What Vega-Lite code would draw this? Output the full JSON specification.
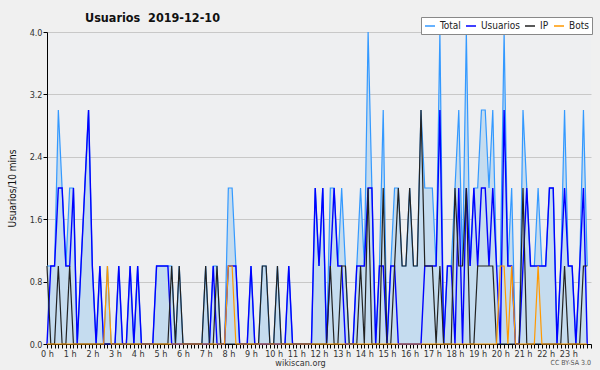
{
  "$schema": "https://vega.github.io/schema/vega-lite/v6.json",
  "width": 544,
  "height": 312,
  "autosize": {"type": "none"},
  "padding": {"left": 47, "top": 32, "right": 9, "bottom": 26},
  "background": "#F0F0F0",
  "title": {"text": "Usuarios\u00a0\u00a02019-12-10", "anchor": "start", "frame": "group", "dx": 38, "dy": 18, "offset": 10, "font": "DejaVu Sans Condensed", "fontSize": 12.5, "fontWeight": "bold", "color": "#111111"},
  "config": {"view": {"stroke": null, "fill": "#EEEFF1"}, "font": "DejaVu Sans Condensed"},
  "data": {"values": [
    {"m":0,"Usuarios":0,"IP":1,"Bots":0,"Total":1},{"m":10,"Usuarios":1,"IP":0,"Bots":0,"Total":1},{"m":20,"Usuarios":1,"IP":0,"Bots":0,"Total":1},{"m":30,"Usuarios":2,"IP":1,"Bots":0,"Total":3},{"m":40,"Usuarios":2,"IP":0,"Bots":0,"Total":2},{"m":50,"Usuarios":1,"IP":0,"Bots":0,"Total":1},
    {"m":60,"Usuarios":1,"IP":1,"Bots":0,"Total":2},{"m":70,"Usuarios":2,"IP":0,"Bots":0,"Total":2},{"m":80,"Usuarios":0,"IP":0,"Bots":0,"Total":0},{"m":90,"Usuarios":1,"IP":0,"Bots":0,"Total":1},{"m":100,"Usuarios":2,"IP":0,"Bots":0,"Total":2},{"m":110,"Usuarios":3,"IP":0,"Bots":0,"Total":3},
    {"m":120,"Usuarios":1,"IP":0,"Bots":0,"Total":1},{"m":130,"Usuarios":0,"IP":0,"Bots":0,"Total":0},{"m":140,"Usuarios":1,"IP":0,"Bots":0,"Total":1},{"m":150,"Usuarios":0,"IP":0,"Bots":0,"Total":0},{"m":160,"Usuarios":0,"IP":0,"Bots":1,"Total":1},{"m":170,"Usuarios":0,"IP":0,"Bots":0,"Total":0},
    {"m":180,"Usuarios":0,"IP":0,"Bots":0,"Total":0},{"m":190,"Usuarios":1,"IP":0,"Bots":0,"Total":1},{"m":200,"Usuarios":0,"IP":0,"Bots":0,"Total":0},{"m":210,"Usuarios":0,"IP":0,"Bots":0,"Total":0},{"m":220,"Usuarios":1,"IP":0,"Bots":0,"Total":1},{"m":230,"Usuarios":0,"IP":0,"Bots":0,"Total":0},
    {"m":240,"Usuarios":1,"IP":0,"Bots":0,"Total":1},{"m":250,"Usuarios":0,"IP":0,"Bots":0,"Total":0},{"m":260,"Usuarios":0,"IP":0,"Bots":0,"Total":0},{"m":270,"Usuarios":0,"IP":0,"Bots":0,"Total":0},{"m":280,"Usuarios":0,"IP":0,"Bots":0,"Total":0},{"m":290,"Usuarios":1,"IP":0,"Bots":0,"Total":1},
    {"m":300,"Usuarios":1,"IP":0,"Bots":0,"Total":1},{"m":310,"Usuarios":1,"IP":0,"Bots":0,"Total":1},{"m":320,"Usuarios":1,"IP":0,"Bots":0,"Total":1},{"m":330,"Usuarios":0,"IP":1,"Bots":0,"Total":1},{"m":340,"Usuarios":0,"IP":0,"Bots":0,"Total":0},{"m":350,"Usuarios":0,"IP":1,"Bots":0,"Total":1},
    {"m":360,"Usuarios":0,"IP":0,"Bots":0,"Total":0},{"m":370,"Usuarios":0,"IP":0,"Bots":0,"Total":0},{"m":380,"Usuarios":0,"IP":0,"Bots":0,"Total":0},{"m":390,"Usuarios":0,"IP":0,"Bots":0,"Total":0},{"m":400,"Usuarios":0,"IP":0,"Bots":0,"Total":0},{"m":410,"Usuarios":0,"IP":0,"Bots":0,"Total":0},
    {"m":420,"Usuarios":0,"IP":1,"Bots":0,"Total":1},{"m":430,"Usuarios":0,"IP":0,"Bots":0,"Total":0},{"m":440,"Usuarios":1,"IP":0,"Bots":0,"Total":1},{"m":450,"Usuarios":0,"IP":1,"Bots":0,"Total":1},{"m":460,"Usuarios":0,"IP":0,"Bots":0,"Total":0},{"m":470,"Usuarios":0,"IP":0,"Bots":0,"Total":0},
    {"m":480,"Usuarios":1,"IP":0,"Bots":1,"Total":2},{"m":490,"Usuarios":1,"IP":0,"Bots":1,"Total":2},{"m":500,"Usuarios":1,"IP":0,"Bots":0,"Total":1},{"m":510,"Usuarios":0,"IP":0,"Bots":0,"Total":0},{"m":520,"Usuarios":0,"IP":0,"Bots":0,"Total":0},{"m":530,"Usuarios":0,"IP":0,"Bots":0,"Total":0},
    {"m":540,"Usuarios":1,"IP":0,"Bots":0,"Total":1},{"m":550,"Usuarios":0,"IP":0,"Bots":0,"Total":0},{"m":560,"Usuarios":0,"IP":0,"Bots":0,"Total":0},{"m":570,"Usuarios":0,"IP":1,"Bots":0,"Total":1},{"m":580,"Usuarios":0,"IP":1,"Bots":0,"Total":1},{"m":590,"Usuarios":0,"IP":0,"Bots":0,"Total":0},
    {"m":600,"Usuarios":0,"IP":0,"Bots":0,"Total":0},{"m":610,"Usuarios":0,"IP":1,"Bots":0,"Total":1},{"m":620,"Usuarios":0,"IP":0,"Bots":0,"Total":0},{"m":630,"Usuarios":0,"IP":0,"Bots":0,"Total":0},{"m":640,"Usuarios":1,"IP":0,"Bots":0,"Total":1},{"m":650,"Usuarios":0,"IP":0,"Bots":0,"Total":0},
    {"m":660,"Usuarios":0,"IP":0,"Bots":0,"Total":0},{"m":670,"Usuarios":0,"IP":0,"Bots":0,"Total":0},{"m":680,"Usuarios":0,"IP":0,"Bots":0,"Total":0},{"m":690,"Usuarios":0,"IP":0,"Bots":0,"Total":0},{"m":700,"Usuarios":0,"IP":0,"Bots":0,"Total":0},{"m":710,"Usuarios":2,"IP":0,"Bots":0,"Total":2},
    {"m":720,"Usuarios":1,"IP":0,"Bots":0,"Total":1},{"m":730,"Usuarios":2,"IP":0,"Bots":0,"Total":2},{"m":740,"Usuarios":0,"IP":0,"Bots":0,"Total":0},{"m":750,"Usuarios":1,"IP":1,"Bots":0,"Total":2},{"m":760,"Usuarios":2,"IP":0,"Bots":0,"Total":2},{"m":770,"Usuarios":1,"IP":0,"Bots":0,"Total":1},
    {"m":780,"Usuarios":1,"IP":1,"Bots":0,"Total":2},{"m":790,"Usuarios":0,"IP":1,"Bots":0,"Total":1},{"m":800,"Usuarios":0,"IP":0,"Bots":0,"Total":0},{"m":810,"Usuarios":0,"IP":0,"Bots":0,"Total":0},{"m":820,"Usuarios":1,"IP":0,"Bots":0,"Total":1},{"m":830,"Usuarios":1,"IP":1,"Bots":0,"Total":2},
    {"m":840,"Usuarios":1,"IP":0,"Bots":0,"Total":1},{"m":850,"Usuarios":2,"IP":2,"Bots":0,"Total":4},{"m":860,"Usuarios":2,"IP":0,"Bots":0,"Total":2},{"m":870,"Usuarios":0,"IP":0,"Bots":0,"Total":0},{"m":880,"Usuarios":1,"IP":0,"Bots":0,"Total":1},{"m":890,"Usuarios":1,"IP":2,"Bots":0,"Total":3},
    {"m":900,"Usuarios":0,"IP":0,"Bots":0,"Total":0},{"m":910,"Usuarios":1,"IP":0,"Bots":0,"Total":1},{"m":920,"Usuarios":1,"IP":1,"Bots":0,"Total":2},{"m":930,"Usuarios":0,"IP":2,"Bots":0,"Total":2},{"m":940,"Usuarios":0,"IP":1,"Bots":0,"Total":1},{"m":950,"Usuarios":0,"IP":1,"Bots":0,"Total":1},
    {"m":960,"Usuarios":0,"IP":2,"Bots":0,"Total":2},{"m":970,"Usuarios":0,"IP":1,"Bots":0,"Total":1},{"m":980,"Usuarios":0,"IP":1,"Bots":0,"Total":1},{"m":990,"Usuarios":0,"IP":3,"Bots":0,"Total":3},{"m":1000,"Usuarios":1,"IP":1,"Bots":0,"Total":2},{"m":1010,"Usuarios":1,"IP":1,"Bots":0,"Total":2},
    {"m":1020,"Usuarios":1,"IP":1,"Bots":0,"Total":2},{"m":1030,"Usuarios":1,"IP":0,"Bots":0,"Total":1},{"m":1040,"Usuarios":3,"IP":1,"Bots":0,"Total":4},{"m":1050,"Usuarios":0,"IP":0,"Bots":0,"Total":0},{"m":1060,"Usuarios":1,"IP":0,"Bots":0,"Total":1},{"m":1070,"Usuarios":1,"IP":0,"Bots":0,"Total":1},
    {"m":1080,"Usuarios":0,"IP":2,"Bots":0,"Total":2},{"m":1090,"Usuarios":2,"IP":1,"Bots":0,"Total":3},{"m":1100,"Usuarios":0,"IP":1,"Bots":0,"Total":1},{"m":1110,"Usuarios":2,"IP":2,"Bots":0,"Total":4},{"m":1120,"Usuarios":1,"IP":0,"Bots":0,"Total":1},{"m":1130,"Usuarios":2,"IP":0,"Bots":0,"Total":2},
    {"m":1140,"Usuarios":1,"IP":1,"Bots":0,"Total":2},{"m":1150,"Usuarios":2,"IP":1,"Bots":0,"Total":3},{"m":1160,"Usuarios":2,"IP":1,"Bots":0,"Total":3},{"m":1170,"Usuarios":1,"IP":1,"Bots":0,"Total":2},{"m":1180,"Usuarios":2,"IP":1,"Bots":0,"Total":3},{"m":1190,"Usuarios":1,"IP":0,"Bots":0,"Total":1},
    {"m":1200,"Usuarios":0,"IP":0,"Bots":1,"Total":1},{"m":1210,"Usuarios":3,"IP":0,"Bots":1,"Total":4},{"m":1220,"Usuarios":1,"IP":0,"Bots":0,"Total":1},{"m":1230,"Usuarios":1,"IP":0,"Bots":1,"Total":2},{"m":1240,"Usuarios":0,"IP":0,"Bots":0,"Total":0},{"m":1250,"Usuarios":0,"IP":0,"Bots":0,"Total":0},
    {"m":1260,"Usuarios":1,"IP":2,"Bots":0,"Total":3},{"m":1270,"Usuarios":2,"IP":0,"Bots":0,"Total":2},{"m":1280,"Usuarios":1,"IP":0,"Bots":0,"Total":1},{"m":1290,"Usuarios":1,"IP":0,"Bots":0,"Total":1},{"m":1300,"Usuarios":1,"IP":0,"Bots":1,"Total":2},{"m":1310,"Usuarios":1,"IP":0,"Bots":0,"Total":1},
    {"m":1320,"Usuarios":1,"IP":0,"Bots":0,"Total":1},{"m":1330,"Usuarios":2,"IP":0,"Bots":0,"Total":2},{"m":1340,"Usuarios":2,"IP":0,"Bots":0,"Total":2},{"m":1350,"Usuarios":0,"IP":0,"Bots":0,"Total":0},{"m":1360,"Usuarios":1,"IP":0,"Bots":0,"Total":1},{"m":1370,"Usuarios":2,"IP":1,"Bots":0,"Total":3},
    {"m":1380,"Usuarios":1,"IP":0,"Bots":0,"Total":1},{"m":1390,"Usuarios":1,"IP":0,"Bots":0,"Total":1},{"m":1400,"Usuarios":0,"IP":0,"Bots":0,"Total":0},{"m":1410,"Usuarios":1,"IP":0,"Bots":0,"Total":1},{"m":1420,"Usuarios":2,"IP":1,"Bots":0,"Total":3},{"m":1430,"Usuarios":0,"IP":1,"Bots":0,"Total":1}
  ]},
  "encoding": {
    "x": {"field": "m", "type": "quantitative", "scale": {"domain": [0, 1440], "nice": false, "zero": false},
      "axis": {"values": [0,10,20,30,40,50,60,70,80,90,100,110,120,130,140,150,160,170,180,190,200,210,220,230,240,250,260,270,280,290,300,310,320,330,340,350,360,370,380,390,400,410,420,430,440,450,460,470,480,490,500,510,520,530,540,550,560,570,580,590,600,610,620,630,640,650,660,670,680,690,700,710,720,730,740,750,760,770,780,790,800,810,820,830,840,850,860,870,880,890,900,910,920,930,940,950,960,970,980,990,1000,1010,1020,1030,1040,1050,1060,1070,1080,1090,1100,1110,1120,1130,1140,1150,1160,1170,1180,1190,1200,1210,1220,1230,1240,1250,1260,1270,1280,1290,1300,1310,1320,1330,1340,1350,1360,1370,1380,1390,1400,1410,1420,1430,1440],
        "labelExpr": "datum.value % 60 == 0 && datum.value < 1440 ? (datum.value / 60) + ' h' : ''",
        "labelOverlap": false, "labelBound": false, "labelFlush": false,
        "labelFont": "DejaVu Sans Condensed", "labelFontSize": 9, "labelColor": "#333333", "labelPadding": 1,
        "tickSize": 4, "tickColor": "#000000", "tickWidth": 1, "domainColor": "#000000", "domainWidth": 1, "grid": false,
        "title": "wikiscan.org", "titleFont": "DejaVu Sans Condensed", "titleFontSize": 9, "titleFontWeight": "normal", "titleColor": "#333333", "titleX": 253, "titlePadding": 0}}
  },
  "layer": [
    {"mark": {"type": "area", "color": "#C5DCEF", "opacity": 1},
     "encoding": {"y": {"field": "Total", "type": "quantitative", "scale": {"domain": [0, 4], "nice": false},
       "axis": {"values": [0,0.2,0.4,0.6,0.8,1,1.2,1.4,1.6,1.8,2,2.2,2.4,2.6,2.8,3,3.2,3.4,3.6,3.8,4],
         "labelExpr": "abs(datum.value / 0.8 - round(datum.value / 0.8)) < 0.01 ? format(datum.value, '.1f') : ''",
         "labelOverlap": false, "labelBound": false, "labelFlush": false,
         "labelFont": "DejaVu Sans Condensed", "labelFontSize": 9, "labelColor": "#333333", "labelPadding": 1,
         "tickSize": 4, "tickColor": "#000000", "domainColor": "#000000",
         "grid": true, "gridColor": {"condition": {"test": "abs(datum.value / 0.8 - round(datum.value / 0.8)) < 0.01 && datum.value > 0", "value": "#C8C8C8"}, "value": "transparent"},
         "title": "Usuarios/10 mins", "titleFont": "DejaVu Sans Condensed", "titleFontSize": 10, "titleFontWeight": "normal", "titleColor": "#111111", "titlePadding": 12}}}},
    {"mark": {"type": "line", "strokeWidth": 1.2},
     "encoding": {"y": {"field": "Total", "type": "quantitative"},
       "color": {"datum": "Total", "type": "nominal",
         "scale": {"domain": ["Total", "Usuarios", "IP", "Bots"], "range": ["#3399FF", "#0000FF", "#222222", "#FF9900"]},
         "legend": {"orient": "none", "legendX": 374, "legendY": -15, "direction": "horizontal", "title": null,
           "symbolType": "stroke", "symbolSize": 100, "symbolStrokeWidth": 1.5, "labelFont": "DejaVu Sans Condensed", "labelFontSize": 10, "labelColor": "#222222",
           "fillColor": "#FFFFFF", "strokeColor": "#888888", "padding": 3, "columnPadding": 2, "labelOffset": 4}}}},
    {"mark": {"type": "line", "strokeWidth": 1.4},
     "encoding": {"y": {"field": "Usuarios", "type": "quantitative"}, "color": {"datum": "Usuarios", "type": "nominal"}}},
    {"mark": {"type": "line", "strokeWidth": 1.2},
     "encoding": {"y": {"field": "IP", "type": "quantitative"}, "color": {"datum": "IP", "type": "nominal"}}},
    {"mark": {"type": "line", "strokeWidth": 1.2},
     "encoding": {"y": {"field": "Bots", "type": "quantitative"}, "color": {"datum": "Bots", "type": "nominal"}}},
    {"transform": [{"filter": "datum.m == 1430"}],
     "mark": {"type": "text", "align": "right", "baseline": "middle", "dy": 19, "fontSize": 7, "font": "DejaVu Sans Condensed", "color": "#555555"},
     "encoding": {"x": {"datum": 1440}, "y": {"datum": 0}, "text": {"value": "CC BY-SA 3.0"}}}
  ]
}
